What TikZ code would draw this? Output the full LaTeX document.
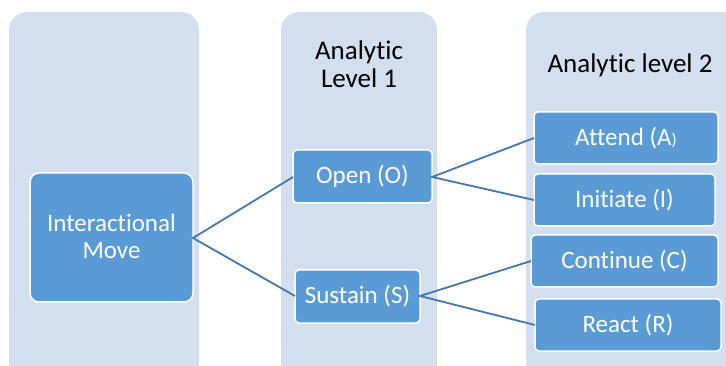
\documentclass[tikz,border=0pt]{standalone}
\usepackage{fontspec}
\setmainfont[Ligatures=NoCommon]{Carlito}
\definecolor{colbg}{HTML}{D3DEEF}
\definecolor{boxfill}{HTML}{5B9BD5}
\definecolor{linkc}{HTML}{4676AE}
\begin{document}
\begin{tikzpicture}[x=1pt,y=-1pt,
  column/.style={fill=colbg,rounded corners=18pt},
  bigbox/.style={draw=white,line width=1.5pt,fill=boxfill,rounded corners=9pt},
  smallbox/.style={draw=white,line width=1.5pt,fill=boxfill,rounded corners=4pt},
  boxtext/.style={text=white,font=\fontsize{25}{27}\selectfont,align=center},
  header/.style={text=black,font=\fontsize{27}{28}\selectfont,align=center},
  link/.style={draw=linkc,line width=1.8pt}]
\clip (0,0) rectangle (726,366);
\fill[white] (0,0) rectangle (726,366);
% columns
\fill[column] (9,12) rectangle (199,400);
\fill[column] (281,12) rectangle (437,400);
\fill[column] (526,12) rectangle (760,400);
% headers
\node[header] (h1) at (359,64) {Analytic\\Level 1};
\node[header] (h2) at (630,65) {Analytic level 2};
% boxes
\path[bigbox] (30,173) rectangle (193,302);
\node[boxtext] (im) at (111.5,236.5) {Interactional\\Move};
\coordinate (imR) at (193,238);
\path[smallbox] (293,150) rectangle (432,203);
\node[boxtext] (open) at (362.5,176.5) {Open (O)};
\coordinate (openL) at (293,177);
\coordinate (openR) at (432,177);
\path[smallbox] (295,270) rectangle (420,323);
\node[boxtext] (sus) at (357.5,296.5) {Sustain (S)};
\coordinate (susL) at (295,296);
\coordinate (susR) at (420,296);
\path[smallbox] (534,112) rectangle (718,164);
\node[boxtext] (att) at (626,138) {Attend (A{\fontsize{17}{20}\selectfont)}};
\coordinate (attL) at (534,138);
\path[smallbox] (534,174) rectangle (715,226);
\node[boxtext] (ini) at (624.5,200) {Initiate (I)};
\coordinate (iniL) at (534,200);
\path[smallbox] (531,235) rectangle (718,287);
\node[boxtext] (con) at (624.5,261) {Continue (C)};
\coordinate (conL) at (531,261);
\path[smallbox] (535,299) rectangle (721,351);
\node[boxtext] (rea) at (628,325) {React (R)};
\coordinate (reaL) at (535,325);
% links
\draw[link] (openL) -- (imR) -- (susL);
\draw[link] (attL) -- (openR) -- (iniL);
\draw[link] (conL) -- (susR) -- (reaL);
\end{tikzpicture}
\end{document}
